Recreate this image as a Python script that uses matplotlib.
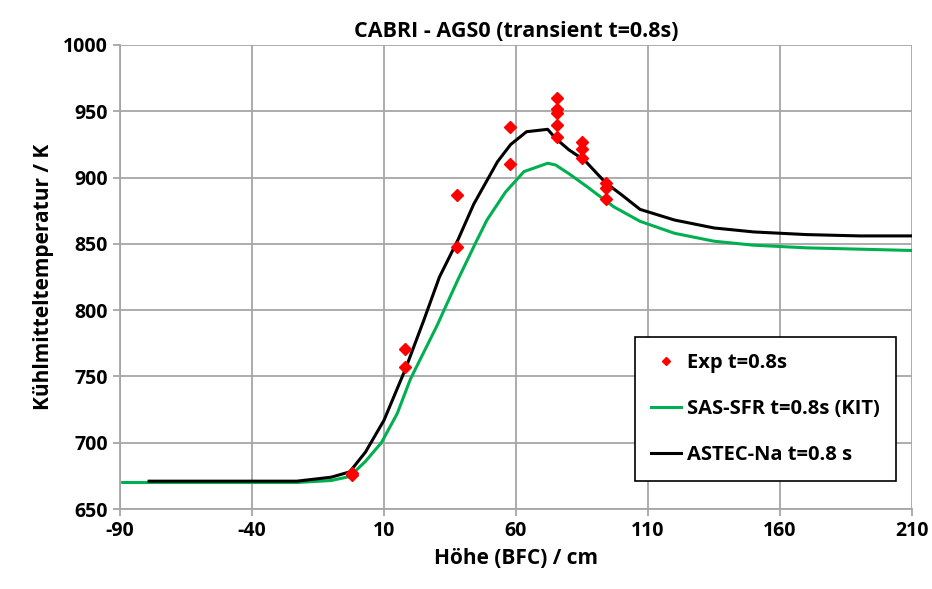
import matplotlib
matplotlib.use("Agg")
import matplotlib.pyplot as plt

# experimental points
exp_x = [-2, -2, 18, 18, 37.7, 37.7, 57.7, 57.7, 75.6, 75.6, 75.6, 75.6, 75.6, 85, 85, 85, 94, 94, 94]
exp_y = [676, 677.5, 771, 757, 887, 848, 938.4, 910, 960, 951.5, 948.5, 939.7, 930.4, 927, 921.3, 915, 895.7, 892, 883.6]

# SAS-SFR (KIT)
sas_x = [-89, -60, -40, -23, -10, -3, 3, 9, 15, 20, 30, 38, 45, 49, 56, 63, 68, 72, 75, 80, 87, 97, 107, 120, 135, 150, 170, 190, 210]
sas_y = [670, 670, 670, 670, 671.5, 674.5, 686, 700, 722, 748, 788, 823, 852, 868, 889, 904.5, 908, 910.8, 909.5, 903, 893, 878, 867, 858, 852, 849, 847, 846, 845]

# ASTEC-Na
astec_x = [-79, -60, -40, -23, -10, -3, 3, 10, 18, 25, 31, 38, 44, 53, 58, 64, 72, 75, 80, 86, 94, 100, 107, 120, 135, 150, 170, 190, 210]
astec_y = [671, 671, 671, 671, 674, 678, 693, 717, 755, 792, 825, 853, 880, 912, 925, 934.6, 936.4, 929.6, 921, 913, 896, 887, 876, 868, 862, 859, 857, 856, 856]

x_ticks = [-90, -40, 10, 60, 110, 160, 210]
y_ticks = [650, 700, 750, 800, 850, 900, 950, 1000]

plt.rcParams['font.family'] = ['Open Sans', 'DejaVu Sans']
plt.rcParams['font.weight'] = 'bold'
plt.rcParams['axes.unicode_minus'] = False

fig = plt.figure(figsize=(9.32, 5.89), dpi=100)
ax = fig.add_axes([0.1288, 0.1358, 0.8497, 0.7878])

ax.plot(exp_x, exp_y, linestyle='none', marker='D', markersize=6, color='#ff0000',
        label='Exp t=0.8s', zorder=4)
ax.plot(sas_x, sas_y, color='#00b050', linewidth=2.2, label='SAS-SFR t=0.8s (KIT)', zorder=3)
ax.plot(astec_x, astec_y, color='black', linewidth=2.2, label='ASTEC-Na t=0.8 s', zorder=3)

ax.set_xlim(-90, 210)
ax.set_ylim(650, 1000)
ax.set_xticks(x_ticks)
ax.set_yticks(y_ticks)
ax.grid(True, color='#a6a6a6', linewidth=1.3)
ax.set_axisbelow(True)
for s in ['top', 'right']:
    ax.spines[s].set_visible(False)
for s in ['left', 'bottom']:
    ax.spines[s].set_color('#a6a6a6')
    ax.spines[s].set_linewidth(1.3)
ax.tick_params(axis='both', colors='#a6a6a6', width=1.3, length=5, labelcolor='black', labelsize=14)
for lbl in ax.get_xticklabels() + ax.get_yticklabels():
    lbl.set_fontweight('bold')

ax.set_xlabel('Höhe (BFC) / cm', fontsize=15, fontweight='bold', labelpad=5)
ax.set_ylabel('Kühlmitteltemperatur / K', fontsize=15, fontweight='bold', labelpad=7)
ax.set_title('CABRI - AGS0 (transient t=0.8s)', fontsize=15.5, fontweight='bold', pad=6)

leg = ax.legend(loc='center', bbox_to_anchor=(0.646, 0.026, 0.338, 0.379),
                frameon=True, fancybox=False, edgecolor='black', fontsize=14.5,
                handlelength=1.5, handletextpad=0.3, labelspacing=1.3, markerscale=0.7,
                borderpad=0.8, framealpha=1)
leg.get_frame().set_linewidth(1.2)
for t in leg.get_texts():
    t.set_fontweight('bold')

fig.savefig('out.png', dpi=100)
